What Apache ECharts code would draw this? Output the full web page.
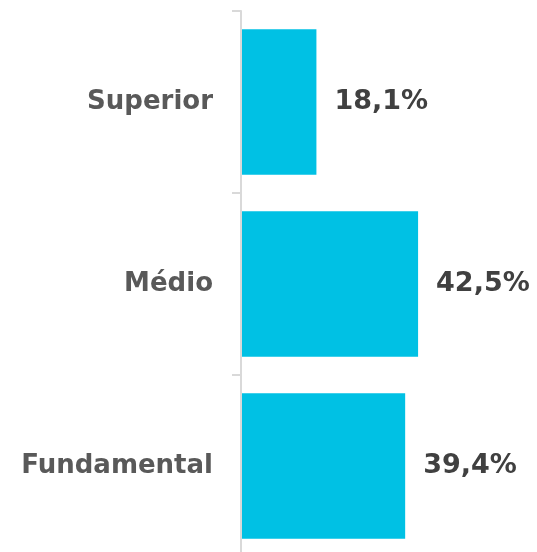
<!DOCTYPE html>
<html>
<head>
<meta charset="utf-8">
<script src="https://cdn.jsdelivr.net/npm/echarts@6/dist/echarts.min.js"></script>
<style>
  html, body { margin: 0; padding: 0; background: #fff; }
  #chart { width: 537px; height: 552px; }
</style>
</head>
<body>
<div id="chart"></div>
<script>
// categories bottom -> top (category y axis grows upward)
var categories = ['Fundamental', 'Médio', 'Superior']
var values = [39.4, 42.5, 18.1]

var labelFont = '"DejaVu Sans", Verdana, sans-serif'

function getOptions() {
  return {
    animation: false,
    grid: {
      left: 241,
      width: 250,
      top: 11,
      height: 546,
      outerBoundsMode: 'none' // the last band runs past the bottom edge
    },
    xAxis: {
      type: 'value',
      min: 0,
      max: 60,
      show: false
    },
    yAxis: {
      type: 'category',
      data: categories,
      z: 3, // keep the axis line on top of the bars
      axisLine: {
        show: true,
        lineStyle: { color: '#d9d9d9', width: 2 }
      },
      axisTick: {
        show: true,
        alignWithLabel: false,
        length: 9,
        lineStyle: { color: '#d9d9d9', width: 2 }
      },
      axisLabel: {
        margin: 28,
        color: '#595959',
        fontFamily: labelFont,
        fontWeight: 'bold',
        fontSize: 26
      }
    },
    series: [
      {
        type: 'bar',
        data: values,
        barCategoryGap: '20%',
        itemStyle: { color: '#00c1e4' },
        label: {
          show: true,
          position: 'right',
          distance: 18,
          color: '#404040',
          fontFamily: labelFont,
          fontWeight: 'bold',
          fontSize: 27,
          formatter: function (p) {
            return p.value.toFixed(1).replace('.', ',') + '%'
          }
        }
      }
    ]
  }
}

var chart = echarts.init(document.getElementById('chart'))
chart.setOption(getOptions())
</script>
</body>
</html>
